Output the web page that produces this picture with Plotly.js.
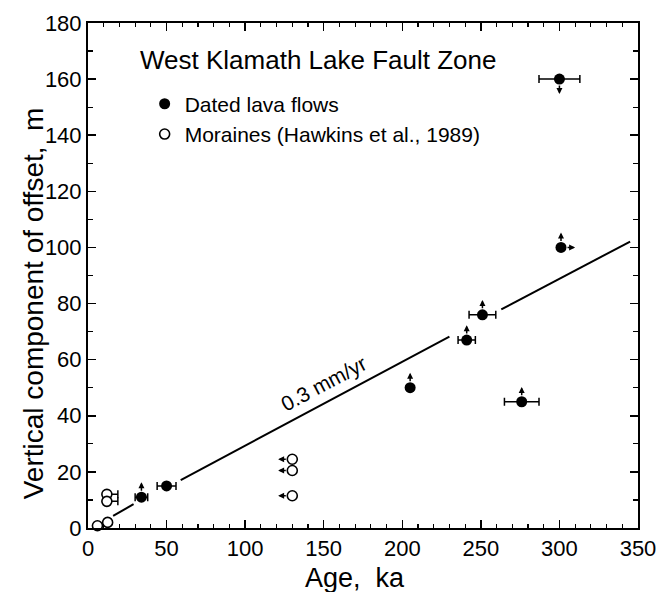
<!DOCTYPE html>
<html>
<head>
<meta charset="utf-8">
<script src="https://cdn.plot.ly/plotly-3.0.1.min.js"></script>
<style>html,body{margin:0;padding:0;background:#fff;}#chart{width:660px;height:592px;}</style>
</head>
<body>
<div id="chart"></div>
<script>
// Dated lava flows (filled circles)
const lavaAge = [34, 50, 205, 241, 251, 276, 300, 301];
const lavaOffset = [11, 15, 50, 67, 76, 45, 160, 100];
const lavaAgeErr = [4, 6, 0, 5.5, 8.5, 11, 13, 0];
const lavaBound = ['up', 'none', 'up', 'up', 'up', 'up', 'down', 'up,right'];

// Moraines (Hawkins et al., 1989) (open circles)
const moraineAge = [12, 12, 6, 12.5, 130, 130, 130];
const moraineOffset = [12, 9.5, 0.8, 2, 24.5, 20.5, 11.5];
const moraineAgeErrPlus = [7, 7, 0, 0, 0, 0, 0];
const moraineBound = ['none', 'none', 'none', 'none', 'left', 'left', 'left'];

// 0.3 mm/yr reference line (broken near data points)
const fitAge = [16, 29, null, 59, 230, null, 263, 345];
const fitOffset = [4.3, 8.5, null, 17.1, 68.2, null, 77.9, 102.1];

const xTickVals = [0, 50, 100, 150, 200, 250, 300, 350];
const yTickVals = [0, 20, 40, 60, 80, 100, 120, 140, 160, 180];

const FONT = 'Liberation Sans, Arial, Helvetica, sans-serif';
const ARROW_Y = 5.3, ARROW_X = 9;

function boundArrows(xs, ys, bounds, standoff) {
  const out = [];
  xs.forEach((x, i) => {
    bounds[i].split(',').forEach(b => {
      let hx = x, hy = ys[i];
      if (b === 'up') hy += ARROW_Y;
      else if (b === 'down') hy -= ARROW_Y;
      else if (b === 'right') hx += ARROW_X;
      else if (b === 'left') hx -= ARROW_X;
      else return;
      out.push({
        x: hx, y: hy, ax: x, ay: ys[i], xref: 'x', yref: 'y', axref: 'x', ayref: 'y',
        text: '', showarrow: true, arrowhead: 2, arrowsize: 0.8, arrowwidth: 1.5,
        arrowcolor: '#000', startstandoff: standoff, standoff: 0
      });
    });
  });
  return out;
}

const traces = [
  {
    x: fitAge, y: fitOffset, mode: 'lines', type: 'scatter', showlegend: false,
    line: {color: '#000', width: 2}, connectgaps: false, hoverinfo: 'skip'
  },
  {
    name: 'Dated lava flows', x: lavaAge, y: lavaOffset, mode: 'markers', type: 'scatter',
    marker: {symbol: 'circle', size: 11, color: '#000'},
    error_x: {type: 'data', array: lavaAgeErr, visible: true, color: '#000', thickness: 1.5, width: 4},
    cliponaxis: false
  },
  {
    name: 'Moraines (Hawkins et al., 1989)', x: moraineAge, y: moraineOffset, mode: 'markers', type: 'scatter',
    marker: {symbol: 'circle', size: 10, color: '#fff', line: {color: '#000', width: 1.6}},
    error_x: {type: 'data', symmetric: false, array: moraineAgeErrPlus,
              arrayminus: moraineAgeErrPlus.map(() => 0), visible: true, color: '#000', thickness: 1.5, width: 4},
    cliponaxis: false
  }
];

const annotations = [
  {xref: 'paper', yref: 'paper', x: 0.091, y: 0.927, xanchor: 'left', yanchor: 'middle',
   text: 'West Klamath Lake Fault Zone', showarrow: false, font: {family: FONT, size: 26, color: '#000'}},
  {xref: 'x', yref: 'y', x: 150, y: 51.5, text: '0.3 mm/yr', showarrow: false, textangle: -28,
   font: {family: FONT, size: 21, color: '#000'}},
  {xref: 'paper', yref: 'paper', x: -0.1, y: 0.445, xanchor: 'center', yanchor: 'middle', textangle: -90,
   text: 'Vertical component of offset,  m', showarrow: false, font: {family: FONT, size: 28, color: '#000'}},
  {xref: 'paper', yref: 'paper', x: 0.485, y: -0.099, xanchor: 'center', yanchor: 'middle',
   text: 'Age,  ka', showarrow: false, font: {family: FONT, size: 27, color: '#000'}}
].concat(boundArrows(lavaAge, lavaOffset, lavaBound, 5))
 .concat(boundArrows(moraineAge, moraineOffset, moraineBound, 5));

const axisCommon = {
  showline: true, linecolor: '#000', linewidth: 2, mirror: 'allticks',
  ticks: 'inside', ticklen: 8, tickwidth: 1.5, tickcolor: '#000',
  showgrid: false, zeroline: false, tickfont: {family: FONT, size: 22, color: '#000'}
};

const layout = {
  width: 660, height: 592,
  margin: {l: 88, r: 22, t: 23, b: 64},
  paper_bgcolor: '#fff', plot_bgcolor: '#fff',
  font: {family: FONT, color: '#000'},
  xaxis: Object.assign({}, axisCommon, {
    range: [0, 350], tickvals: xTickVals,
    minor: {dtick: 10, ticks: 'inside', ticklen: 4, tickwidth: 1.2, tickcolor: '#000', showgrid: false}
  }),
  yaxis: Object.assign({}, axisCommon, {
    range: [0, 180], tickvals: yTickVals,
    minor: {dtick: 10, ticks: 'inside', ticklen: 5, tickwidth: 1.2, tickcolor: '#000', showgrid: false}
  }),
  showlegend: true,
  legend: {x: 0.103, y: 0.88, xanchor: 'left', yanchor: 'top', bgcolor: 'rgba(0,0,0,0)',
           font: {family: FONT, size: 21, color: '#000'}, borderwidth: 0, itemwidth: 30},
  annotations: annotations
};

Plotly.newPlot('chart', traces, layout, {staticPlot: true, displayModeBar: false});
</script>
</body>
</html>
